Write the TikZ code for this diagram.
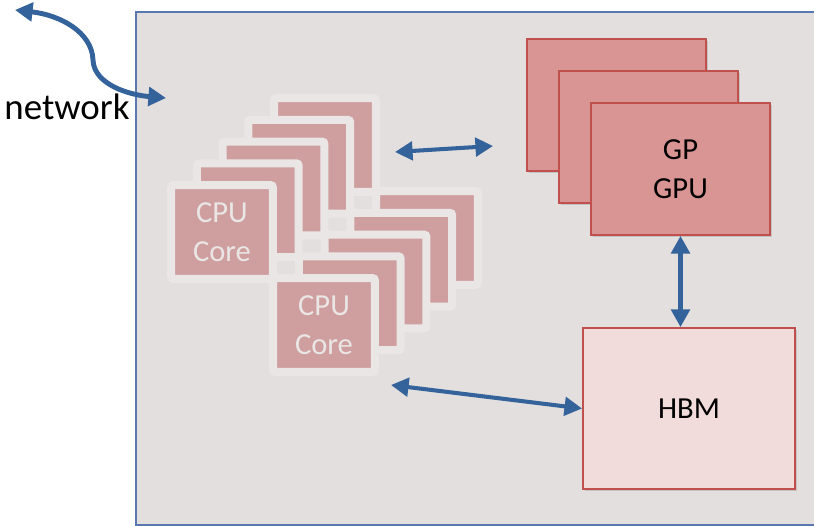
\documentclass[tikz,border=0pt]{standalone}
\usepackage{fontspec}
\setmainfont{Carlito}
\usetikzlibrary{arrows.meta,shadows}
\definecolor{panel}{HTML}{E4DFDF}
\definecolor{panelline}{HTML}{5A78B0}
\definecolor{cardrim}{HTML}{EAE6E6}
\definecolor{cardcore}{HTML}{CF9E9E}
\definecolor{gpufill}{HTML}{D99594}
\definecolor{boxline}{HTML}{C0504D}
\definecolor{hbmfill}{HTML}{F2DCDB}
\definecolor{wireblue}{HTML}{34629A}
\begin{document}
\begin{tikzpicture}[x=.02cm,y=-.02cm,
core/.style={fill=cardcore,draw=cardrim,line width=.16cm,rounded corners=1.5pt,
  minimum width=2.04cm,minimum height=1.88cm,inner sep=0pt,text=cardrim,align=center,
  font=\fontsize{17.4}{22.5}\selectfont,
  drop shadow={shadow xshift=.8pt,shadow yshift=-1pt,opacity=.3}},
box/.style={draw=boxline,line width=1.1pt,inner sep=0pt,align=center,
  font=\fontsize{17.4}{22.5}\selectfont,
  drop shadow={shadow xshift=.9pt,shadow yshift=-.9pt,opacity=.3}},
gpu/.style={box,fill=gpufill,minimum width=3.58cm,minimum height=2.64cm},
hbm/.style={box,fill=hbmfill,minimum width=4.24cm,minimum height=3.22cm},
wire/.style={draw=wireblue,line width=2.3pt,
  {Triangle[length=10pt,width=10.5pt]}-{Triangle[length=10pt,width=10.5pt]}}]
\useasboundingbox(0,0)rectangle(814,526);
\clip(0,0)rectangle(814,526);
\draw[panelline,fill=panel,line width=.6pt](136,12)rectangle(850,525);
% two stacks of cores, back cards first
\foreach \k in {4,3,2,1}
  \node[core](cpuA\k) at ({222+25.75*\k},{232-21.75*\k}){};
\node[core](cpuA0) at (222,232){CPU\\Core};
\foreach \k in {4,3,2,1}
  \node[core](cpuB\k) at ({324+25.75*\k},{325-21.75*\k}){};
\node[core](cpuB0) at (324,325){CPU\\Core};
% gpus and memory
\node[gpu](gpu2) at (616.5,105){};
\node[gpu](gpu1) at (648.5,137){};
\node[gpu](gpu0) at (680.5,169){GP\\GPU};
\node[hbm](hbm) at (689,408.5){HBM};
\node[anchor=base,font=\fontsize{21}{25}\selectfont](net) at (67,120){network};
\coordinate(cpuout) at (395,152);
\coordinate(gpuin) at (493,146);
\coordinate(cpumem) at (391,385);
\coordinate(netfar) at (15,10);
\coordinate(netin) at (166,98);
\draw[wire](cpuout)--(gpuin);
\draw[wire](gpu0.south)--(gpu0.south|-hbm.north);
\draw[wire](cpumem)--(hbm.west);
\draw[wire,line width=2.8pt](netfar)..controls(60,15)and(92,32)..(93,60)
  ..controls(94,85)and(130,95)..(netin);
\end{tikzpicture}
\end{document}
